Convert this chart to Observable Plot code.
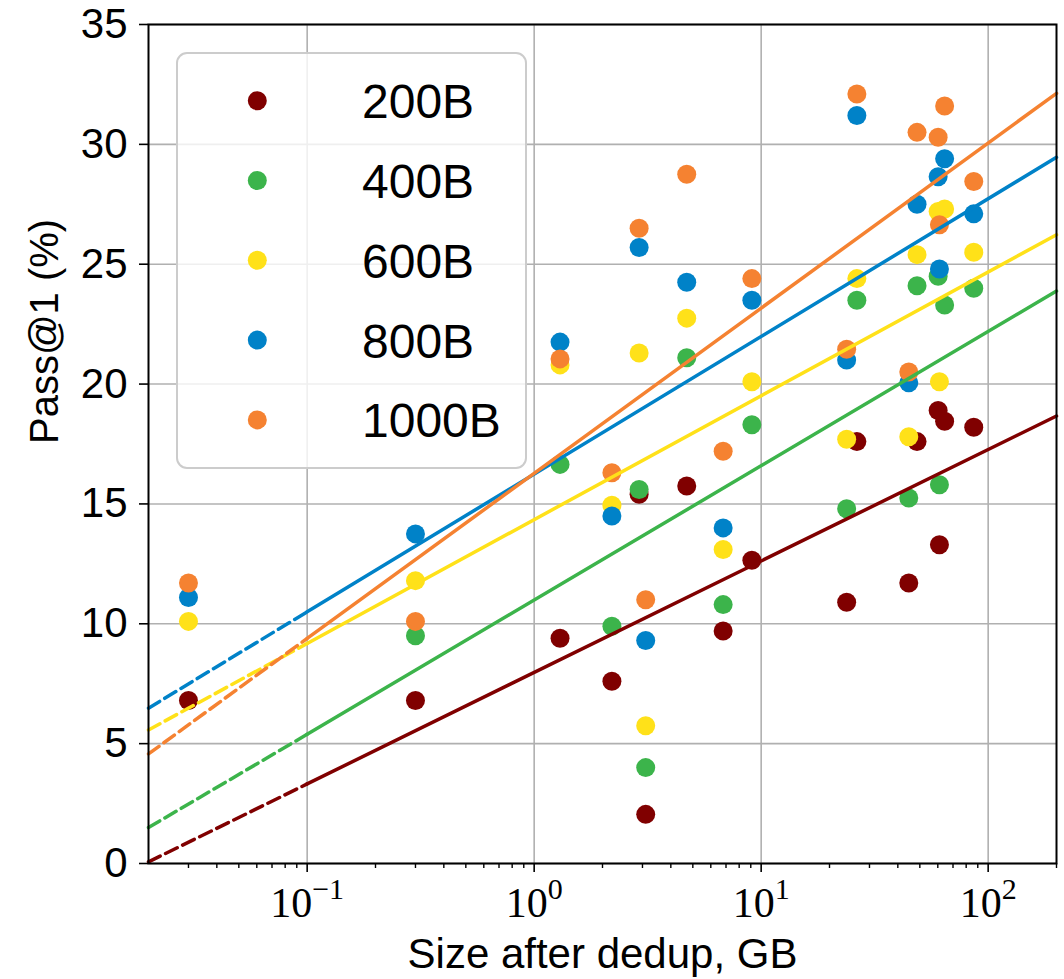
<!DOCTYPE html>
<html><head><meta charset="utf-8">
<script src="https://cdn.jsdelivr.net/npm/d3@7"></script>
<script src="https://cdn.jsdelivr.net/npm/@observablehq/plot@0.6"></script>
<style>body{margin:0;background:#fff} svg{background:#fff}</style>
</head><body><div id="chart"></div>
<script>
// ---- data ----
const seriesNames = ["200B", "400B", "600B", "800B", "1000B"];
const seriesColors = ["#800000", "#3cb44b", "#ffe119", "#0082c8", "#f58231"];
const sizeGB = [0.03, 0.3, 1.3, 2.2, 2.9, 3.1, 4.7, 6.8, 9.1, 23.8, 26.4, 44.7, 48.6, 60.2, 61.0, 64.3, 86.4];
const pass200B  = [6.8, 6.8, 9.4, 7.6, 15.4, 2.05, 15.75, 9.7, 12.65, 10.9, 17.6, 11.7, 17.6, 18.9, 13.3, 18.45, 18.2];
const pass400B  = [null, 9.5, 16.65, 9.9, 15.6, 4.0, 21.1, 10.8, 18.3, 14.8, 23.5, 15.25, 24.1, 24.5, 15.8, 23.3, 24.0];
const pass600B  = [10.1, 11.8, 20.8, 14.95, 21.3, 5.75, 22.75, 13.1, 20.1, 17.7, 24.4, 17.8, 25.4, 27.2, 20.1, 27.3, 25.5];
const pass800B  = [11.1, 13.75, 21.75, 14.5, 25.7, 9.3, 24.25, 14.0, 23.5, 21.0, 31.2, 20.05, 27.5, 28.65, 24.8, 29.4, 27.1];
const pass1000B = [11.7, 10.1, 21.05, 16.3, 26.5, 11.0, 28.75, 17.2, 24.4, 21.45, 32.1, 20.5, 30.5, 30.3, 26.65, 31.6, 28.45];
// fitted trend lines, read at x = 0.02, 0.1 and 200 GB
const fitX = [0.02, 0.1, 200];
const fit200B  = [0.07, 3.32, 18.67];
const fit400B  = [1.5, 5.39, 23.88];
const fit600B  = [5.57, 9.18, 26.23];
const fit800B  = [6.48, 10.5, 29.46];
const fit1000B = [4.57, 9.39, 32.13];
const yTicks = [0, 5, 10, 15, 20, 25, 30, 35];
const xMajorTicks = [0.1, 1, 10, 100];
const xTickBase = "10";
const xTickExp = ["\u22121", "0", "1", "2"];
const xMinorTicks = [0.03,0.04,0.05,0.06,0.07,0.08,0.09,0.2,0.3,0.4,0.5,0.6,0.7,0.8,0.9,2,3,4,5,6,7,8,9,20,30,40,50,60,70,80,90,200];
const xLabel = "Size after dedup, GB";
const yLabel = "Pass@1 (%)";

// ---- tables ----
const passBySeries = [pass200B, pass400B, pass600B, pass800B, pass1000B];
const fitBySeries = [fit200B, fit400B, fit600B, fit800B, fit1000B];
const points = [];
seriesNames.forEach((s, k) => passBySeries[k].forEach((v, i) => {
  if (v != null) points.push({series: s, x: sizeGB[i], y: v});
}));
const dashed = [], solid = [];
seriesNames.forEach((s, k) => {
  const f = fitBySeries[k];
  dashed.push({series: s, x: fitX[0], y: f[0]}, {series: s, x: fitX[1], y: f[1]});
  solid.push({series: s, x: fitX[1], y: f[1]}, {series: s, x: fitX[2], y: f[2]});
});

const sans = "Liberation Sans, Arial, sans-serif";
const serif = "Liberation Serif, Times New Roman, serif";
const gridColor = "#b0b0b0";

const plot = Plot.plot({
  width: 1064,
  height: 979,
  marginLeft: 148,
  marginRight: 8,
  marginTop: 24,
  marginBottom: 116,
  style: {fontFamily: sans, color: "black", background: "#fff"},
  x: {type: "log", domain: [0.02, 200]},
  y: {domain: [0, 35]},
  color: {domain: seriesNames, range: seriesColors},
  marks: [
    Plot.gridX(xMajorTicks, {stroke: gridColor, strokeOpacity: 1, strokeWidth: 1.6}),
    Plot.gridY(yTicks, {stroke: gridColor, strokeOpacity: 1, strokeWidth: 1.6}),
    Plot.dot(points, {x: "x", y: "y", fill: "series", r: 9.5}),
    Plot.line(dashed, {x: "x", y: "y", z: "series", stroke: "series", strokeWidth: 3.5, strokeDasharray: "13,6"}),
    Plot.line(solid, {x: "x", y: "y", z: "series", stroke: "series", strokeWidth: 3.5}),
    Plot.frame({stroke: "black", strokeWidth: 2}),
    Plot.axisY({ticks: yTicks, tickSize: 9, tickPadding: 12, fontSize: 42, strokeWidth: 1.6, label: null, fontFamily: sans}),
    Plot.axisX({ticks: xMinorTicks, tickSize: 5, strokeWidth: 1.4, fill: "none", label: null}),
    Plot.axisX({ticks: xMajorTicks, tickSize: 9, tickPadding: 15, fontSize: 42, strokeWidth: 1.6, label: null, fontFamily: serif, tickFormat: d => xTickBase}),
    Plot.text([xLabel], {frameAnchor: "bottom", dy: 104, lineAnchor: "bottom", fontSize: 42, fontFamily: sans, fill: "black"}),
    Plot.text([yLabel], {frameAnchor: "left", dx: -103, rotate: -90, lineAnchor: "middle", fontSize: 40, fontFamily: sans, fill: "black"})
  ]
});

// superscript exponents on the x tick labels
const svg = d3.select(plot);
svg.selectAll('g[aria-label="x-axis tick label"] text').each(function(d, i) {
  const t = d3.select(this);
  t.text(xTickBase);
  t.append("tspan").attr("dy", "-0.6em").attr("font-size", 30).text(xTickExp[i]);
});

// legend box
const color = plot.scale("color");
const lg = svg.append("g").attr("font-family", sans).attr("text-anchor", "start");
lg.append("rect").attr("x", 177).attr("y", 53).attr("width", 349).attr("height", 415)
  .attr("rx", 10).attr("fill", "white").attr("fill-opacity", 0.8)
  .attr("stroke", "#cccccc").attr("stroke-width", 2);
seriesNames.forEach((s, i) => {
  const cy = 100.7 + i * 79.8;
  lg.append("circle").attr("cx", 257.3).attr("cy", cy).attr("r", 9.5).attr("fill", color.apply(s));
  lg.append("text").attr("x", 362).attr("y", cy + 17.5).attr("font-size", 48)
    .attr("text-anchor", "start").attr("fill", "black").text(s);
});

document.getElementById("chart").appendChild(plot);
</script>
</body></html>
